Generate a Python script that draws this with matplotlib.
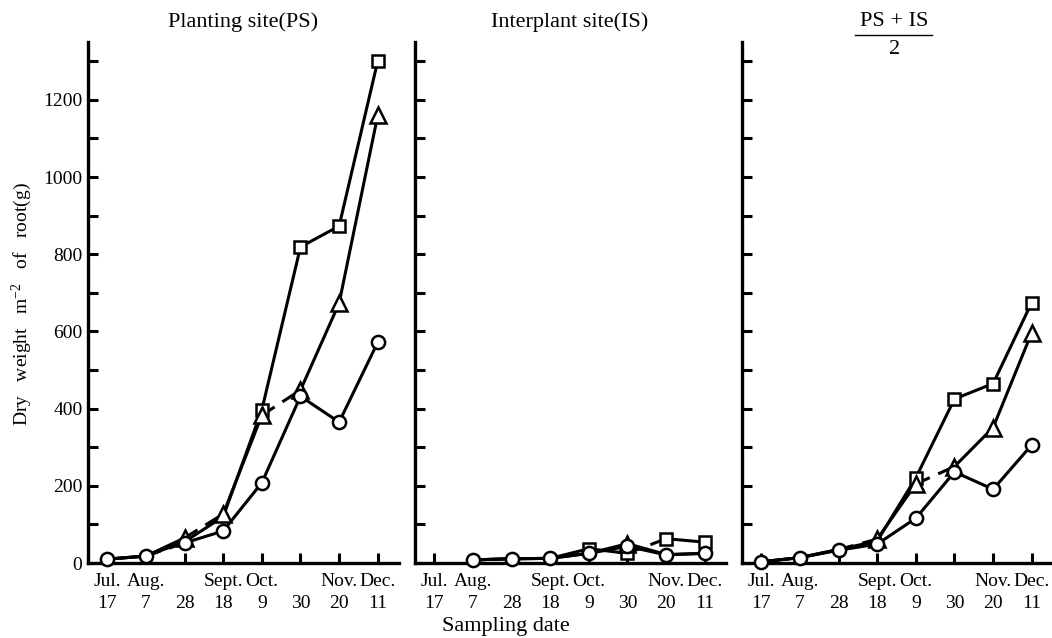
import numpy as np
import matplotlib.pyplot as plt
from matplotlib.lines import Line2D

plt.rcParams['font.family'] = ['Liberation Serif', 'DejaVu Serif']
plt.rcParams['mathtext.default'] = 'regular'

# sampling dates (21 days apart)
months = ['Jul.', 'Aug.', '', 'Sept.', 'Oct.', '', 'Nov.', 'Dec.']
days = ['17', '7', '28', '18', '9', '30', '20', '11']

# dry weight of root, g per m2
ps_circle = [10, 18, 52, 83, 208, 432, 365, 572]
ps_triangle = [10, 18, 65, 127, 383, 448, 673, 1160]
ps_square = [10, 18, 55, 120, 397, 819, 873, 1301]

is_circle = [np.nan, 8, 11, 12, 25, 43, 21, 25]
is_triangle = [np.nan, 8, 11, 12, 25, 50, 22, 25]
is_square = [np.nan, 8, 11, 12, 37, 25, 63, 54]

avg_circle = [3, 14, 33, 49, 116, 236, 191, 306]
avg_triangle = [3, 14, 35, 62, 205, 250, 351, 597]
avg_square = [3, 14, 35, 57, 221, 425, 465, 675]

# which segments are drawn broken, and where markers show (others hidden under circles)
panels = [
    {'title': 'Planting site(PS)', 'sq': ps_square, 'tri': ps_triangle, 'circ': ps_circle,
     'dashed': {'tri': [2, 4], 'circ': [1]},
     'marks': {'sq': [4, 5, 6, 7], 'tri': [2, 3, 4, 5, 6, 7]}},
    {'title': 'Interplant site(IS)', 'sq': is_square, 'tri': is_triangle, 'circ': is_circle,
     'dashed': {'sq': [5]},
     'marks': {'sq': [4, 5, 6, 7], 'tri': [5]}},
    {'title': None, 'sq': avg_square, 'tri': avg_triangle, 'circ': avg_circle,
     'dashed': {'tri': [2, 4]},
     'marks': {'sq': [4, 5, 6, 7], 'tri': [3, 4, 5, 6, 7]}},
]

markers = {'sq': ('s', 8.5), 'tri': ('^', 11), 'circ': ('o', 9.5)}

W, H = 1052, 638
fig = plt.figure(figsize=(W / 100, H / 100), dpi=100)

lefts = [88, 415, 742]
x = np.arange(len(days))

for k, (left, p) in enumerate(zip(lefts, panels)):
    ax = fig.add_axes([left / W, 1 - 563 / H, 311 / W, (563 - 42) / H])
    ax.set_xlim(-0.5, 7.55)
    ax.set_ylim(0, 1350)

    # lines first, segment by segment
    for key in ['sq', 'tri', 'circ']:
        y = np.array(p[key], dtype=float)
        dashed = p['dashed'].get(key, [])
        for i in range(len(y) - 1):
            if np.isnan(y[i]) or np.isnan(y[i + 1]):
                continue
            ls = (0, (5, 3)) if i in dashed else '-'
            ax.plot(x[i:i + 2], y[i:i + 2], color='black', lw=2.2, ls=ls,
                    solid_capstyle='butt', dash_capstyle='butt', zorder=2, clip_on=False)

    # markers on top: squares, then triangles, then circles
    for z, key in enumerate(['sq', 'tri', 'circ']):
        m, ms = markers[key]
        every = p['marks'].get(key, None)
        ax.plot(x, p[key], ls='none', marker=m, ms=ms, mfc='white', mec='black',
                mew=1.8, markevery=every, zorder=3 + z, clip_on=False)

    for side in ['top', 'right']:
        ax.spines[side].set_visible(False)
    for side in ['left', 'bottom']:
        ax.spines[side].set_linewidth(2.4)

    ax.set_xticks(x, labels=[f'{m}\n{d}' for m, d in zip(months, days)])
    yt = np.arange(0, 1400, 100)
    ax.set_yticks(yt, labels=[str(v) if v % 200 == 0 else '' for v in yt])
    ax.tick_params(axis='x', direction='in', length=7, width=2.2, pad=7,
                   labelsize=14)
    ax.tick_params(axis='y', direction='in', length=7.5, width=2.2, pad=4,
                   labelsize=14, labelleft=(k == 0))
    for lab in ax.get_xticklabels():
        lab.set_linespacing(1.4)

    if p['title']:
        fig.text((left + 155) / W, 1 - 22 / H, p['title'], ha='center', va='center',
                 fontsize=16)

# fraction title for the third panel
fig.text(894 / W, 1 - 21 / H, 'PS + IS', ha='center', va='center', fontsize=16)
fig.add_artist(Line2D([855 / W, 932 / W], [1 - 35 / H] * 2, transform=fig.transFigure,
                      color='black', lw=1))
fig.text(895 / W, 1 - 50 / H, '2', ha='center', va='center', fontsize=16)

fig.text(506 / W, 1 - 627 / H, 'Sampling date', ha='center', va='center', fontsize=16)
fig.text(22 / W, 1 - 304 / H, 'Dry   weight   m$^{-2}$   of   root(g)', rotation=90,
         ha='center', va='center', fontsize=14)

fig.savefig('out.png', dpi=100)
